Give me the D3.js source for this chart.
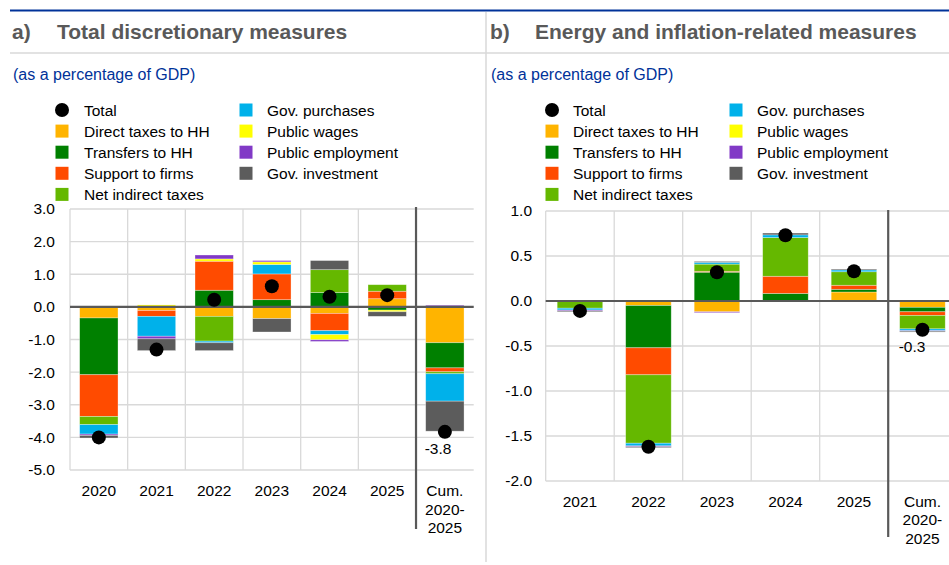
<!DOCTYPE html>
<html><head><meta charset="utf-8">
<script src="https://cdn.jsdelivr.net/npm/d3@7"></script>
<style>
body{margin:0;background:#fff;}
svg{display:block;font-family:"Liberation Sans",Arial,sans-serif;}
</style></head><body>
<svg id="chart" width="949" height="565"></svg>
<script>
// ---------- DATA ----------
const seriesKeys   = ["direct","transfers","firms","indirect","purchases","wages","employment","investment"];
const seriesLabels = ["Direct taxes to HH","Transfers to HH","Support to firms","Net indirect taxes","Gov. purchases","Public wages","Public employment","Gov. investment"];
const seriesColors = ["#FFB400","#008000","#FF4B00","#65B800","#00B1EA","#FFFF00","#8139C6","#5C5C5C"];

// Panel a) Total discretionary measures
const categoriesA = ["2020","2021","2022","2023","2024","2025","Cum.\n2020-\n2025"];
const directTaxesA     = [-0.34,-0.11,-0.29,-0.36,-0.20, 0.25,-1.10];
const transfersA       = [-1.74, 0.00, 0.51, 0.22, 0.44,-0.10,-0.77];
const supportFirmsA    = [-1.28,-0.18, 0.89, 0.79,-0.53, 0.23,-0.12];
const netIndirectA     = [-0.25, 0.00,-0.76, 0.00, 0.70, 0.20,-0.06];
const govPurchasesA    = [-0.29,-0.61,-0.05, 0.29,-0.12, 0.00,-0.84];
const publicWagesA     = [ 0.00, 0.06, 0.07, 0.08,-0.16,-0.05, 0.00];
const publicEmployA    = [-0.04,-0.08, 0.12, 0.04,-0.05, 0.00, 0.05];
const govInvestmentA   = [-0.08,-0.36,-0.24,-0.41, 0.28,-0.14,-0.92];
const totalA           = [-4.00,-1.31, 0.22, 0.63, 0.31, 0.36,-3.83];
const ticksA = [3,2,1,0,-1,-2,-3,-4,-5];

// Panel b) Energy and inflation-related measures
const categoriesB = ["2021","2022","2023","2024","2025","Cum.\n2020-\n2025"];
const directTaxesB     = [ 0.00,-0.05,-0.12, 0.00, 0.10,-0.07];
const transfersB       = [ 0.00,-0.47, 0.32, 0.085,0.03,-0.05];
const supportFirmsB    = [ 0.00,-0.30, 0.01, 0.19, 0.045,-0.04];
const netIndirectB     = [-0.08,-0.76, 0.08, 0.43, 0.15,-0.15];
const govPurchasesB    = [-0.02,-0.03, 0.02, 0.03, 0.02,-0.02];
const publicWagesB     = [ 0.00, 0.00, 0.00, 0.00, 0.00, 0.00];
const publicEmployB    = [-0.01,-0.01,-0.01, 0.00, 0.00,-0.005];
const govInvestmentB   = [-0.01,-0.01, 0.01, 0.02, 0.01,-0.01];
const totalB           = [-0.11,-1.62, 0.32, 0.73, 0.33,-0.32];
const ticksB = [1,0.5,0,-0.5,-1,-1.5,-2];

const titleA = "Total discretionary measures";
const titleB = "Energy and inflation-related measures";
const subtitle = "(as a percentage of GDP)";

// ---------- DRAW ----------
const svg = d3.select("#chart");
const FONT = 15.5;
const fmt = v => v.toFixed(1);

// frame
svg.append("line").attr("x1",10).attr("x2",949).attr("y1",10.5).attr("y2",10.5)
  .attr("stroke","#003299").attr("stroke-width",2.2);
svg.append("line").attr("x1",10).attr("x2",949).attr("y1",53).attr("y2",53)
  .attr("stroke","#d9d9d9").attr("stroke-width",1.5);
svg.append("line").attr("x1",486).attr("x2",486).attr("y1",12).attr("y2",562)
  .attr("stroke","#d9d9d9").attr("stroke-width",1.5);

function buildRows(cats, arrs){
  return cats.map((c,i)=>{
    const r={cat:c};
    seriesKeys.forEach((k,j)=>r[k]=arrs[j][i]);
    return r;
  });
}

function drawPanel(o){
  const g = svg.append("g");
  // titles
  g.append("text").attr("x",o.tx).attr("y",39).text(o.letter)
    .attr("font-size",21).attr("font-weight","bold").attr("fill","#595959");
  g.append("text").attr("x",o.tx+45).attr("y",39).text(o.title)
    .attr("font-size",21).attr("font-weight","bold").attr("fill","#595959");
  g.append("text").attr("x",o.tx+1).attr("y",80).text(subtitle)
    .attr("font-size",16).attr("fill","#003299");

  // legend
  const lg = g.append("g");
  const rowH = 21.1;
  const items = [{label:"Total",type:"dot"}].concat(seriesLabels.map((l,i)=>({label:l,color:seriesColors[i],type:"sq"})));
  items.forEach((it,i)=>{
    const col = i<5?0:1, row = i<5?i:i-5;
    const cx = o.legX[col], cy = 110 + row*rowH;
    if(it.type==="dot") lg.append("circle").attr("cx",cx).attr("cy",cy).attr("r",7).attr("fill","#000");
    else lg.append("rect").attr("x",cx-6.5).attr("y",cy-6.5).attr("width",13).attr("height",13).attr("fill",it.color);
    lg.append("text").attr("x",o.legT[col]).attr("y",cy+5.5).text(it.label)
      .attr("font-size",FONT).attr("fill","#000");
  });

  // scales
  const x = d3.scaleBand().domain(o.cats).range([o.x0,o.x1]).padding(0);
  const y = d3.scaleLinear().domain(o.domain).range([o.yb,o.yt]);
  const bw = x.bandwidth()*0.665;

  // grid
  const grid = g.append("g").attr("stroke","#d9d9d9").attr("stroke-width",1.3);
  grid.selectAll("line.h").data(o.ticks).join("line")
    .attr("x1",o.x0).attr("x2",o.x1).attr("y1",d=>y(d)).attr("y2",d=>y(d));
  grid.selectAll("line.v").data(o.cats.slice(0,-1)).join("line")
    .attr("x1",d=>x(d)).attr("x2",d=>x(d)).attr("y1",y(o.domain[1])).attr("y2",y(o.domain[0]));

  // y axis labels
  const ya = g.append("g").attr("transform",`translate(${o.x0},0)`)
    .call(d3.axisLeft(y).tickValues(o.ticks).tickFormat(fmt).tickSize(0).tickPadding(o.x0-o.ylabR));
  ya.select(".domain").remove();
  ya.selectAll("text").attr("font-size",FONT).attr("fill","#000").attr("font-family","Liberation Sans, Arial, sans-serif");

  // stacked bars
  const rows = buildRows(o.cats, o.arrs);
  const stacked = d3.stack().keys(seriesKeys).offset(d3.stackOffsetDiverging)(rows);
  const bars = g.append("g");
  stacked.forEach((s,si)=>{
    bars.append("g").attr("fill",seriesColors[si])
      .selectAll("rect").data(s).join("rect")
      .attr("x",d=>x(d.data.cat)+(x.bandwidth()-bw)/2)
      .attr("width",bw)
      .attr("y",d=>y(Math.max(d[0],d[1])))
      .attr("height",d=>Math.abs(y(d[0])-y(d[1])))
      .attr("stroke","#ffffff").attr("stroke-opacity",0.45).attr("stroke-width",0.7);
  });

  // zero line
  g.append("line").attr("x1",o.x0).attr("x2",o.x1).attr("y1",y(0)).attr("y2",y(0))
    .attr("stroke","#595959").attr("stroke-width",2.2);

  // separator
  const last = o.cats[o.cats.length-1];
  g.append("line").attr("x1",x(last)).attr("x2",x(last)).attr("y1",o.sepTop).attr("y2",o.sepBot)
    .attr("stroke","#595959").attr("stroke-width",2.2);

  // totals
  g.append("g").selectAll("circle").data(o.cats).join("circle")
    .attr("cx",d=>x(d)+x.bandwidth()/2).attr("cy",(d,i)=>y(o.total[i])).attr("r",7).attr("fill","#000");

  // cum label
  const li = o.cats.length-1;
  g.append("text").attr("x",x(last)+(x.bandwidth()-bw)/2-1).attr("y",y(o.total[li])+22)
    .text(fmt(o.total[li])).attr("font-size",FONT).attr("fill","#000");

  // x labels
  const xa = g.append("g").attr("transform",`translate(0,${o.yb})`)
    .call(d3.axisBottom(x).tickSize(0).tickFormat(""));
  xa.select(".domain").remove();
  xa.selectAll(".tick").each(function(d){
    const t = d3.select(this).append("text").attr("fill","#000").attr("font-size",FONT)
      .attr("text-anchor","middle").attr("y",o.xlabDy);
    d.split("\n").forEach((line,k)=>t.append("tspan").attr("x",0).attr("dy",k?18.5:0).text(line));
  });
}

drawPanel({
  letter:"a)", title:titleA, tx:12,
  legX:[62,246], legT:[84,267],
  cats:categoriesA, domain:[-5,3], ticks:ticksA,
  x0:70, x1:473.7, yb:470, yt:209, ylabR:55,
  arrs:[directTaxesA,transfersA,supportFirmsA,netIndirectA,govPurchasesA,publicWagesA,publicEmployA,govInvestmentA],
  total:totalA, sepTop:207, sepBot:529, xlabDy:26
});
drawPanel({
  letter:"b)", title:titleB, tx:490,
  legX:[552,736], legT:[573,757],
  cats:categoriesB, domain:[-2,1], ticks:ticksB,
  x0:545.7, x1:956.7, yb:481, yt:211, ylabR:532,
  arrs:[directTaxesB,transfersB,supportFirmsB,netIndirectB,govPurchasesB,publicWagesB,publicEmployB,govInvestmentB],
  total:totalB, sepTop:210, sepBot:537, xlabDy:25.5
});
</script>
</body></html>
